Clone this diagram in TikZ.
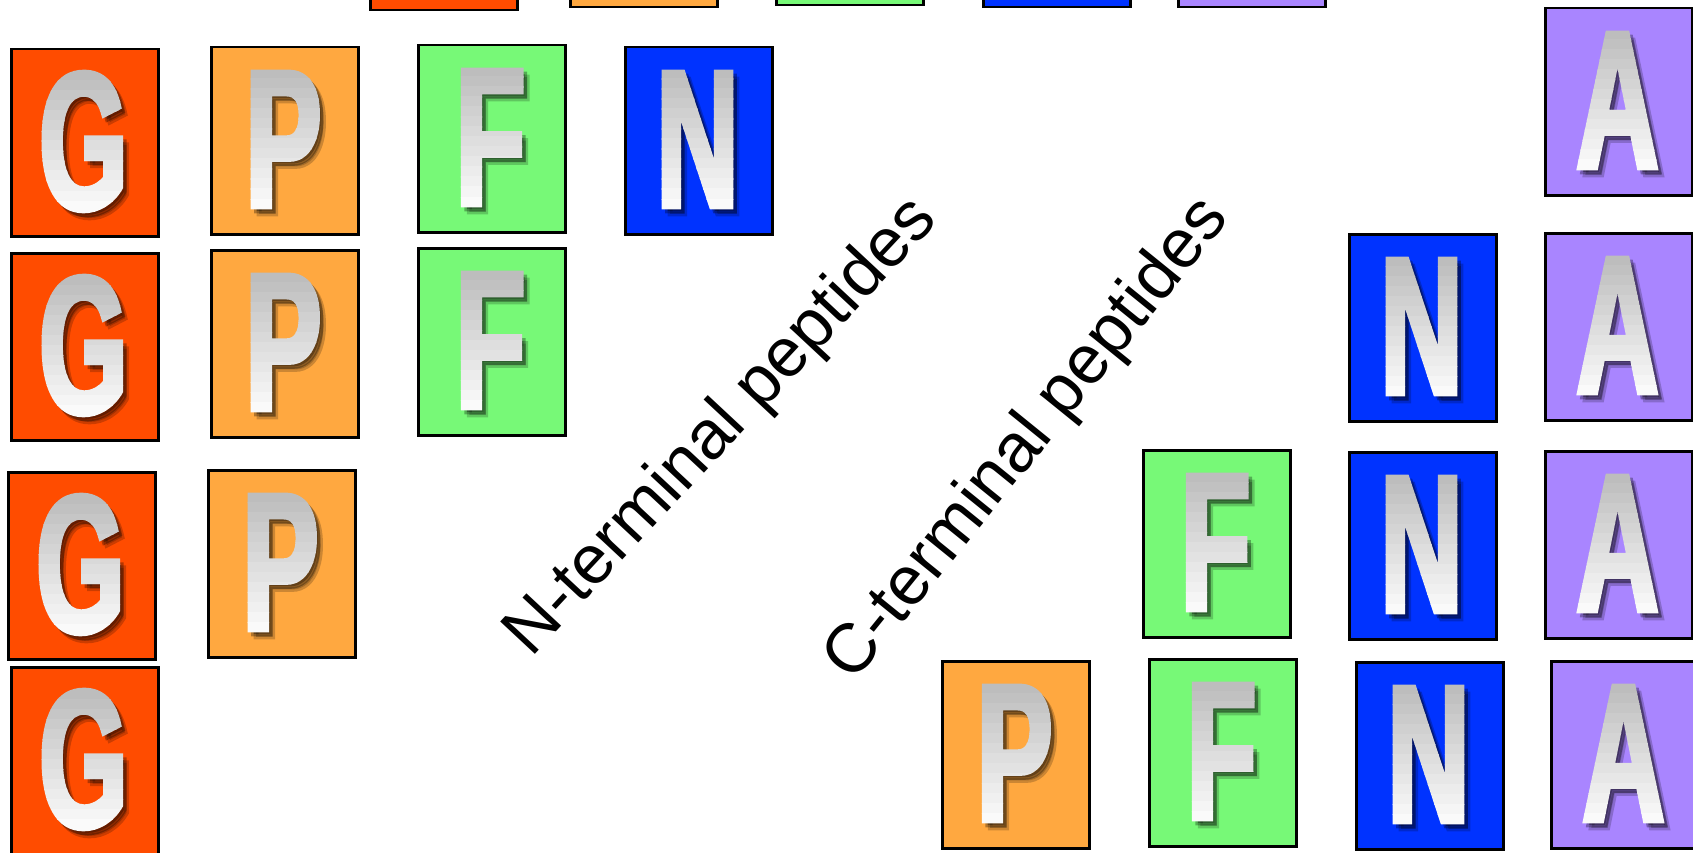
\documentclass[tikz,border=0pt]{standalone}
\usepackage{fontspec}
\setmainfont{Liberation Sans}
\newfontfamily\tilefont[FakeStretch=0.58, FakeBold=2.5]{Liberation Sans}
\definecolor{cG}{RGB}{255,76,0}
\definecolor{cP}{RGB}{255,168,64}
\definecolor{cF}{RGB}{119,249,119}
\definecolor{cN}{RGB}{0,51,255}
\definecolor{cA}{RGB}{169,133,255}
\tikzset{
 tilebox/.style={draw=black, line width=2.5pt, minimum width=147pt, minimum height=187pt, inner sep=0pt, anchor=north west},
 tileletter/.style={inner sep=0pt, font=\tilefont\bfseries\fontsize{196}{196}\selectfont},
 peplabel/.style={font=\fontsize{69}{69}\selectfont, inner sep=0pt}
}
\newcommand\aatile[5]{%
 \node[tilebox, fill=#4] (#1) at (#2,#3) {};
 \ifx\relax#5\relax\else
 \node[tileletter, text=black, opacity=0.2] (#1sa) at ({#2+73.5+6},{#3+93.5+7}) {#5};
 \node[tileletter, text=black, opacity=0.3] (#1sb) at ({#2+73.5+3.5},{#3+93.5+4}) {#5};
 \foreach \k in {0,...,13}{
   \pgfmathsetmacro\gv{74+24*\k/13}
   \pgfmathsetmacro\ya{\k==0 ? #3 : #3+23+10*\k}
   \pgfmathsetmacro\yb{\k==13 ? #3+187 : #3+33.6+10*\k}
   \begin{scope}
     \clip ({#2}, \ya) rectangle ({#2+147}, \yb);
     \node[tileletter, text=white!\gv!black] (#1b\k) at ({#2+73.5},{#3+93.5}) {#5};
   \end{scope}
 }
 \fi
}
\begin{document}
\begin{tikzpicture}[x=1pt, y=-1pt]
\useasboundingbox (0,0) rectangle (1693,853);
\clip (0,0) rectangle (1693,853);
% top partial row
\aatile{tG0}{369}{-178}{cG}{}
\aatile{tP0}{569}{-181}{cP}{}
\aatile{tF0}{775}{-183}{cF}{}
\aatile{tN0}{982}{-181}{cN}{}
\aatile{tA0}{1177}{-181}{cA}{}
% row 1
\aatile{g1}{10}{48}{cG}{G}
\aatile{p1}{210}{46}{cP}{P}
\aatile{f1}{417}{44}{cF}{F}
\aatile{n1}{624}{46}{cN}{N}
\aatile{a1}{1544}{7}{cA}{A}
% row 2
\aatile{g2}{10}{252}{cG}{G}
\aatile{p2}{210}{249}{cP}{P}
\aatile{f2}{417}{247}{cF}{F}
\aatile{n2}{1348}{233}{cN}{N}
\aatile{a2}{1544}{232}{cA}{A}
% row 3
\aatile{g3}{7}{471}{cG}{G}
\aatile{p3}{207}{469}{cP}{P}
\aatile{f3}{1142}{449}{cF}{F}
\aatile{n3}{1348}{451}{cN}{N}
\aatile{a3}{1544}{450}{cA}{A}
% row 4
\aatile{g4}{10}{666}{cG}{G}
\aatile{p4}{941}{660}{cP}{P}
\aatile{f4}{1148}{658}{cF}{F}
\aatile{n4}{1355}{661}{cN}{N}
\aatile{a4}{1550}{660}{cA}{A}
% labels
\node[peplabel, rotate=47] (nterm) at (722,428) {N-terminal peptides};
\node[peplabel, rotate=51] (cterm) at (1028,440) {C-terminal peptides};
\end{tikzpicture}
\end{document}
